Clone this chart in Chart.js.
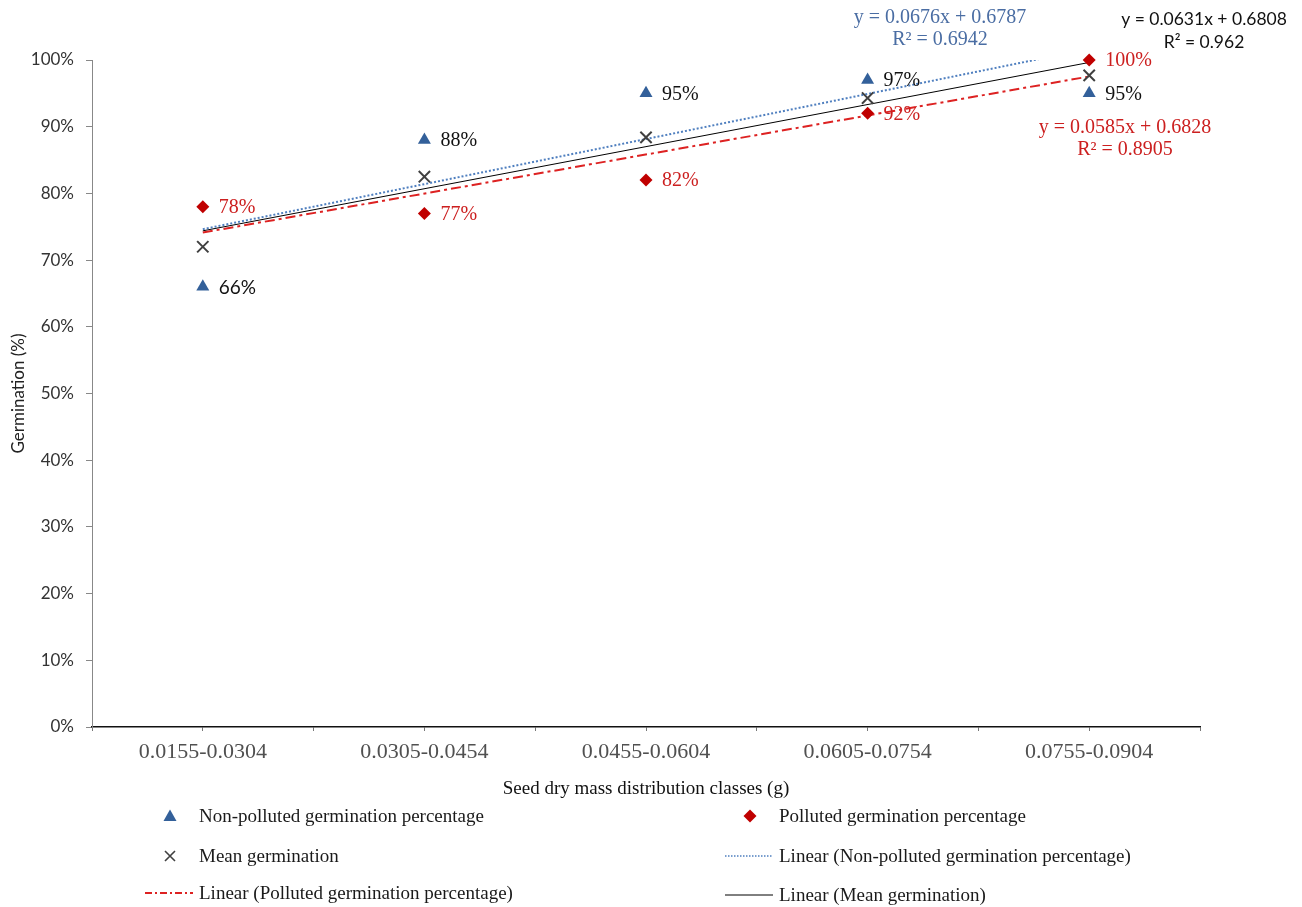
<!DOCTYPE html>
<html>
<head>
<meta charset="utf-8">
<title>Germination by seed dry mass class</title>
<script src="https://cdn.jsdelivr.net/npm/chart.js@4.4.0/dist/chart.umd.min.js"></script>
<style>
  html, body { margin: 0; padding: 0; background: #ffffff; }
  #wrap { position: relative; width: 1302px; height: 907px; overflow: hidden; }
  #chart { position: absolute; left: 0; top: 0; }
  .lg { position: absolute; font: 19px "Liberation Serif", "Times New Roman", serif; color: #1a1a1a;
        white-space: nowrap; line-height: 24px; height: 24px; margin-top: -12px; }
  .mk { position: absolute; }
</style>
</head>
<body>
<div id="wrap">
  <canvas id="chart" width="1302" height="907"></canvas>
  <div id="legend"></div>
</div>
<script>
// Seed dry mass classes (g)
const massClasses = ['0.0155-0.0304', '0.0305-0.0454', '0.0455-0.0604', '0.0605-0.0754', '0.0755-0.0904'];

// Germination rates per class
const nonPolluted     = [0.66, 0.88, 0.95, 0.97, 0.95];
const polluted        = [0.78, 0.77, 0.82, 0.92, 1.00];
const meanGermination = [0.72, 0.825, 0.884, 0.943, 0.977];

// Linear trend fits: non-polluted, polluted, mean
const trendSlopes     = [0.0676, 0.0585, 0.0631];
const trendIntercepts = [0.6787, 0.6828, 0.6808];
const trendR2         = ['0.6942', '0.8905', '0.962'];

// Series names
const seriesNames = [
  'Non-polluted germination percentage',
  'Polluted germination percentage',
  'Mean germination',
  'Linear (Non-polluted germination percentage)',
  'Linear (Polluted germination percentage)',
  'Linear (Mean germination)'
];

const BLUE = '#33609a', RED = '#c00000', GREY_X = '#404040';
const BLUE_TREND = '#4f7fbf', RED_TREND = '#dd2222';
const BLUE_TEXT = '#4a6da3', RED_TEXT = '#cc1f1f';
const SERIF = '"Liberation Serif", "Times New Roman", serif';
const SANS = 'Lato, "Liberation Sans", Arial, sans-serif';

const toPoints = arr => arr.map((v, i) => ({ x: i + 1, y: v }));
const trendPoints = k => [1, 5].map(x => ({ x, y: trendIntercepts[k] + trendSlopes[k] * x }));
const pct = v => Math.round(v * 100) + '%';

// Value labels beside the marker points
const pointLabels = {
  id: 'pointLabels',
  afterDatasetsDraw(chart) {
    const ctx = chart.ctx;
    ctx.save();
    ctx.textBaseline = 'middle';
    ctx.textAlign = 'left';
    const sets = [
      { idx: 0, values: nonPolluted, color: '#111111' },
      { idx: 1, values: polluted, color: RED_TEXT }
    ];
    sets.forEach(s => {
      const meta = chart.getDatasetMeta(s.idx);
      meta.data.forEach((pt, i) => {
        const sansLabel = (s.idx === 0 && i === 0);
        ctx.font = sansLabel ? '19px ' + SANS : '20px ' + SERIF;
        ctx.fillStyle = s.color;
        ctx.fillText(pct(s.values[i]), pt.x + 16, pt.y + 1);
      });
    });
    ctx.restore();
  }
};

// Trendline equations
const trendEquations = {
  id: 'trendEquations',
  afterDraw(chart) {
    const ctx = chart.ctx;
    ctx.save();
    ctx.textAlign = 'center';
    ctx.textBaseline = 'middle';
    const fmt = k => 'y = ' + trendSlopes[k] + 'x + ' + trendIntercepts[k];
    const blocks = [
      { k: 0, x: 940, y1: 18, y2: 40, color: BLUE_TEXT, font: '20px ' + SERIF },
      { k: 2, x: 1204, y1: 19, y2: 42, color: '#111111', font: '17.5px ' + SANS },
      { k: 1, x: 1125, y1: 128, y2: 150, color: RED_TEXT, font: '20px ' + SERIF }
    ];
    blocks.forEach(b => {
      ctx.font = b.font;
      ctx.fillStyle = b.color;
      ctx.fillText(fmt(b.k), b.x, b.y1);
      ctx.fillText('R\u00B2 = ' + trendR2[b.k], b.x, b.y2);
    });
    ctx.restore();
  }
};

// Soft rendering for the category labels on the x axis
const softXLabels = {
  id: 'softXLabels',
  beforeDraw(chart) {
    const scale = chart.scales.x;
    if (scale._softWrapped) return;
    const orig = scale.drawLabels;
    scale.drawLabels = function (area) {
      const c = this.ctx;
      c.save();
      c.filter = 'blur(0.7px)';
      orig.call(this, area);
      c.restore();
    };
    scale._softWrapped = true;
  }
};

const chart = new Chart(document.getElementById('chart').getContext('2d'), {
  type: 'scatter',
  data: {
    datasets: [
      { label: seriesNames[0], data: toPoints(nonPolluted), pointStyle: 'triangle', pointRadius: 7.5,
        backgroundColor: BLUE, borderColor: BLUE, borderWidth: 0, clip: false },
      { label: seriesNames[1], data: toPoints(polluted), pointStyle: 'rectRot', pointRadius: 6.5,
        backgroundColor: RED, borderColor: RED, borderWidth: 0, clip: false },
      { label: seriesNames[2], data: toPoints(meanGermination), pointStyle: 'crossRot', pointRadius: 8,
        backgroundColor: GREY_X, borderColor: GREY_X, borderWidth: 2, clip: false },
      { label: seriesNames[3], data: trendPoints(0), showLine: true, pointRadius: 0,
        borderColor: BLUE_TREND, borderWidth: 2, borderDash: [2, 2] },
      { label: seriesNames[4], data: trendPoints(1), showLine: true, pointRadius: 0,
        borderColor: RED_TREND, borderWidth: 2, borderDash: [10, 4, 3, 4] },
      { label: seriesNames[5], data: trendPoints(2), showLine: true, pointRadius: 0,
        borderColor: '#000000', borderWidth: 1 }
    ]
  },
  options: {
    responsive: false,
    animation: false,
    devicePixelRatio: 1,
    events: [],
    layout: { padding: { left: 0, top: 60, right: 102, bottom: 105 } },
    plugins: { legend: { display: false }, tooltip: { enabled: false } },
    scales: {
      x: {
        type: 'linear',
        min: 0.5, max: 5.5,
        afterFit: s => { s.height = 75; },
        border: { display: true, color: '#111111', width: 1.5 },
        grid: { drawOnChartArea: false, drawTicks: true, tickLength: 4, color: '#777777' },
        ticks: {
          stepSize: 0.5, autoSkip: false, maxRotation: 0, padding: 8,
          color: '#505050', font: { family: SERIF, size: 22 },
          callback: v => Number.isInteger(v) ? massClasses[v - 1] : ''
        },
        title: {
          display: true, text: 'Seed dry mass distribution classes (g)',
          color: '#111111', font: { family: SERIF, size: 19 }, padding: { top: 0, bottom: 2 }
        }
      },
      y: {
        min: 0, max: 1,
        afterFit: s => { s.width = 92; },
        border: { display: true, color: '#888888', width: 1 },
        grid: { drawOnChartArea: false, drawTicks: true, tickLength: 6, color: '#888888' },
        ticks: {
          stepSize: 0.1, padding: 12, color: '#333333', font: { family: SANS, size: 17 },
          callback: v => pct(v)
        },
        title: {
          display: true, text: 'Germination (%)',
          color: '#222222', font: { family: SANS, size: 17 }, padding: { top: 8, bottom: 0 }
        }
      }
    }
  },
  plugins: [softXLabels, pointLabels, trendEquations]
});

// Legend below the chart, two columns
(function buildLegend() {
  const host = document.getElementById('legend');
  const svgNS = 'http://www.w3.org/2000/svg';
  const items = [
    { name: seriesNames[0], kind: 'triangle', mx: 170, tx: 199, y: 816 },
    { name: seriesNames[1], kind: 'diamond',  mx: 750, tx: 779, y: 816 },
    { name: seriesNames[2], kind: 'cross',    mx: 170, tx: 199, y: 856 },
    { name: seriesNames[3], kind: 'dotted',   mx: 749, tx: 779, y: 856 },
    { name: seriesNames[4], kind: 'dashdot',  mx: 169, tx: 199, y: 893 },
    { name: seriesNames[5], kind: 'solid',    mx: 749, tx: 779, y: 895 }
  ];
  items.forEach(it => {
    const svg = document.createElementNS(svgNS, 'svg');
    svg.setAttribute('class', 'mk');
    svg.setAttribute('width', 60);
    svg.setAttribute('height', 20);
    svg.style.left = (it.mx - 30) + 'px';
    svg.style.top = (it.y - 10) + 'px';
    let el;
    if (it.kind === 'triangle') {
      el = document.createElementNS(svgNS, 'polygon');
      el.setAttribute('points', '30,3.5 36.5,15 23.5,15');
      el.setAttribute('fill', BLUE);
    } else if (it.kind === 'diamond') {
      el = document.createElementNS(svgNS, 'polygon');
      el.setAttribute('points', '30,3.5 36.5,10 30,16.5 23.5,10');
      el.setAttribute('fill', RED);
    } else if (it.kind === 'cross') {
      el = document.createElementNS(svgNS, 'path');
      el.setAttribute('d', 'M25,5 L35,15 M35,5 L25,15');
      el.setAttribute('stroke', GREY_X);
      el.setAttribute('stroke-width', '1.6');
    } else {
      el = document.createElementNS(svgNS, 'line');
      el.setAttribute('x1', 6); el.setAttribute('x2', 54);
      el.setAttribute('y1', 10); el.setAttribute('y2', 10);
      if (it.kind === 'dotted') {
        el.setAttribute('stroke', BLUE_TREND); el.setAttribute('stroke-width', '1.5');
        el.setAttribute('stroke-dasharray', '1.5 1.5');
      } else if (it.kind === 'dashdot') {
        el.setAttribute('stroke', RED_TREND); el.setAttribute('stroke-width', '1.8');
        el.setAttribute('stroke-dasharray', '7 3 2 3');
      } else {
        el.setAttribute('stroke', '#000000'); el.setAttribute('stroke-width', '1');
      }
    }
    svg.appendChild(el);
    host.appendChild(svg);
    const t = document.createElement('div');
    t.className = 'lg';
    t.style.left = it.tx + 'px';
    t.style.top = it.y + 'px';
    t.textContent = it.name;
    host.appendChild(t);
  });
})();
</script>
</body>
</html>
